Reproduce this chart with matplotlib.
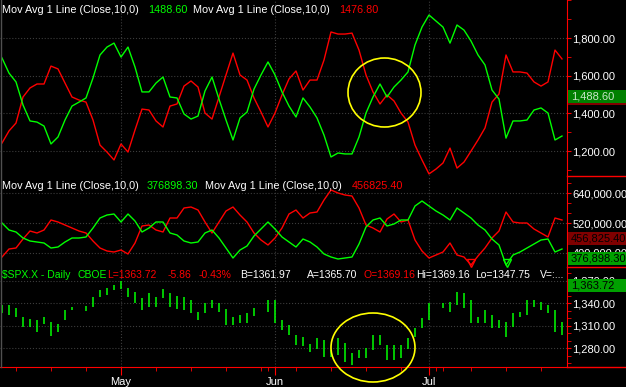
import matplotlib
matplotlib.use("Agg")
import matplotlib.pyplot as plt
from matplotlib.patches import Ellipse, Rectangle
from matplotlib.ticker import MultipleLocator, FixedLocator, FuncFormatter
import numpy as np

plt.rcParams['font.family'] = ['Liberation Sans', 'DejaVu Sans']

nan = np.nan
days = np.arange(81)  # trading days, 0 = first bar on the left

ma1_green = [1694, 1614, 1567, 1445, 1360, 1354, 1333, 1238, 1275, 1365,
             1439, 1460, 1482, 1588, 1710, 1752, 1773, 1699, 1752, 1646,
             1514, 1514, 1561, 1593, 1487, 1482, 1397, 1370, 1386, 1519,
             1593, 1476, 1365, 1259, 1376, 1407, 1529, 1604, 1673, 1604,
             1514, 1439, 1381, 1482, 1434, 1376, 1285, 1169, 1190, 1185,
             1185, 1275, 1402, 1487, 1556, 1487, 1540, 1577, 1620, 1763,
             1858, 1922, 1890, 1858, 1773, 1869, 1842, 1784, 1710, 1657,
             1524, 1476, 1269, 1360, 1360, 1365, 1418, 1429, 1402, 1259,
             1280]
ma1_red = [1243, 1307, 1349, 1487, 1535, 1556, 1556, 1651, 1636, 1561,
           1487, 1471, 1460, 1365, 1232, 1195, 1153, 1238, 1195, 1312,
           1423, 1418, 1360, 1328, 1439, 1450, 1545, 1572, 1540, 1402,
           1370, 1487, 1604, 1720, 1604, 1577, 1482, 1407, 1328, 1402,
           1498, 1583, 1625, 1524, 1577, 1577, 1683, 1832, 1821, 1821,
           1826, 1736, 1604, 1514, 1450, 1498, 1466, 1402, 1354, 1232,
           1153, 1079, 1105, 1137, 1216, 1110, 1142, 1200, 1259, 1323,
           1460, 1503, 1710, 1620, 1620, 1614, 1567, 1545, 1567, 1736,
           1689]

# second panel, in thousands
ma2_green = [520, 492, 484, 460, 448, 444, 440, 420, 424, 444,
             460, 460, 464, 500, 540, 552, 556, 524, 556, 528,
             484, 500, 524, 524, 480, 472, 448, 440, 444, 480,
             492, 460, 420, 380, 412, 428, 468, 496, 524, 496,
             464, 444, 424, 456, 444, 424, 396, 384, 376, 380,
             384, 436, 504, 532, 540, 508, 516, 532, 532, 588,
             608, 588, 568, 552, 532, 580, 560, 540, 512, 492,
             456, 432, 352, 392, 404, 420, 436, 452, 456, 404,
             416]
ma2_red = [384, 416, 420, 456, 488, 480, 492, 532, 524, 512,
           500, 488, 480, 448, 420, 408, 404, 412, 396, 440,
           508, 512, 492, 484, 540, 540, 580, 584, 572, 524,
           480, 524, 568, 584, 552, 524, 480, 452, 432, 460,
           500, 556, 572, 540, 560, 564, 612, 652, 640, 632,
           628, 580, 512, 500, 484, 536, 556, 524, 532, 452,
           408, 380, 392, 404, 440, 392, 384, 352, 388, 420,
           460, 488, 564, 524, 520, 520, 496, 480, 464, 540,
           532]

spx_high = [1338, 1338, 1334, 1322, 1319, 1318, 1322, 1315, 1312, 1331,
            1335, nan, 1336, 1348, 1358, 1360, 1364, 1370, 1360, 1355,
            1347, 1354, 1348, 1359, 1354, 1350, 1348, 1344, 1328, 1340,
            1344, 1340, 1332, 1322, 1324, 1327, 1334, nan, 1344, 1344,
            1318, 1311, 1298, 1295, 1286, 1294, 1291, 1278, 1294, 1287,
            1274, 1278, 1280, 1298, 1298, 1284, 1284, 1284, 1294, 1307,
            1320, 1340, nan, 1340, 1342, 1355, 1354, 1344, 1322, 1331,
            1324, 1318, 1315, 1327, 1328, 1344, 1344, 1342, 1338, 1331,
            1315]
spx_low = [1327, 1324, 1322, 1308, 1308, 1302, 1312, 1296, 1302, 1318,
           1331, nan, 1330, 1335, 1348, 1351, 1358, 1359, 1348, 1340,
           1331, 1335, 1335, 1347, 1335, 1332, 1331, 1327, 1318, 1327,
           1334, 1328, 1311, 1311, 1314, 1314, 1323, nan, 1328, 1314,
           1304, 1298, 1284, 1283, 1275, 1279, 1268, 1268, 1271, 1262,
           1258, 1267, 1267, 1278, 1284, 1264, 1264, 1267, 1279, 1295,
           1307, 1318, nan, 1334, 1328, 1338, 1334, 1314, 1314, 1314,
           1307, 1307, 1295, 1308, 1322, 1324, 1335, 1331, 1327, 1302,
           1298]

week_ticks = [2, 7, 12, 22, 27, 32, 37, 38, 42, 47, 52, 57, 62, 63, 67, 72, 77]
month_ticks = [17, 39, 61]
month_labels = ['May', 'Jun', 'Jul']

GREEN = '#00ff00'
RED = '#ff0000'
W, H = 626, 387

fig = plt.figure(figsize=(W / 100, H / 100), dpi=100, facecolor='black')


def panel(top, bottom):
    ax = fig.add_axes([0, 1 - bottom / H, 567 / W, (bottom - top) / H])
    ax.set_facecolor('black')
    for s in ['top', 'left', 'bottom']:
        ax.spines[s].set_visible(False)
    ax.spines['right'].set_color(RED)
    ax.yaxis.tick_right()
    ax.tick_params(axis='y', which='both', colors=RED, labelcolor='white',
                   labelsize=8, length=3, pad=1)
    ax.set_xlim(-2 / 7, 565 / 7)
    ax.xaxis.set_major_locator(FixedLocator(month_ticks))
    ax.tick_params(axis='x', which='both', bottom=False, labelbottom=False)
    ax.grid(True, which='major', color='#3c3c3c', linestyle=':', linewidth=0.8)
    ax.set_axisbelow(True)
    return ax


ax1 = panel(0, 176)
ax1.plot(days, ma1_red, color=RED, lw=1)
ax1.plot(days, ma1_green, color=GREEN, lw=1)
ax1.set_ylim(1068, 2001.6)
ax1.yaxis.set_major_locator(FixedLocator([1200, 1400, 1600, 1800]))
ax1.yaxis.set_minor_locator(MultipleLocator(100))
ax1.yaxis.set_major_formatter(FuncFormatter(lambda v, p: f'{v:,.2f}'))

ax2 = panel(176, 267)
ax2.plot(days, np.array(ma2_red) * 1000, color=RED, lw=1)
ax2.plot(days, np.array(ma2_green) * 1000, color=GREEN, lw=1)
ax2.set_ylim(344000, 708000)
ax2.yaxis.set_major_locator(FixedLocator([400000, 520000, 640000]))
ax2.yaxis.set_minor_locator(MultipleLocator(40000))
ax2.yaxis.set_major_formatter(FuncFormatter(lambda v, p: f'{v:,.2f}'))

ax3 = panel(267, 367)
ax3.vlines(days, spx_low, spx_high, color=GREEN, lw=1.1)
ax3.set_ylim(1255.1, 1388.4)
ax3.yaxis.set_major_locator(FixedLocator([1280, 1310, 1340, 1370]))
ax3.yaxis.set_minor_locator(MultipleLocator(10))
ax3.yaxis.set_major_formatter(FuncFormatter(lambda v, p: f'{v:,.2f}'))
ax3.spines['bottom'].set_visible(True)
ax3.spines['bottom'].set_color(RED)
ax3.xaxis.set_minor_locator(FixedLocator(week_ticks))
ax3.set_xticklabels(month_labels)
ax3.tick_params(axis='x', which='major', bottom=True, labelbottom=True,
                colors=RED, labelcolor='white', length=6, labelsize=8, pad=1.5)
ax3.tick_params(axis='x', which='minor', bottom=True, colors=RED, length=3)

# overlay in pixel coordinates for headers, value boxes and markups
ov = fig.add_axes([0, 0, 1, 1])
ov.set_xlim(0, W)
ov.set_ylim(H, 0)
ov.axis('off')
ov.patch.set_alpha(0)
ov.set_zorder(10)

ov.plot([567, W], [367, 367], color=RED, lw=1)
ov.plot([567, W], [176, 176], color=RED, lw=1)
ov.plot([567, W], [267, 267], color=RED, lw=1)
ov.plot([0.5, 0.5], [0, 367], color='#505050', lw=1)

headers = [
    (2, 10, 'Mov Avg 1 Line (Close,10,0)', 'white', 7.8),
    (148, 10, '1488.60', GREEN, 7.8),
    (193, 10, 'Mov Avg 1 Line (Close,10,0)', 'white', 7.8),
    (339, 10, '1476.80', RED, 7.8),
    (2, 186, 'Mov Avg 1 Line (Close,10,0)', 'white', 7.8),
    (147, 186, '376898.30', GREEN, 7.8),
    (205, 186, 'Mov Avg 1 Line (Close,10,0)', 'white', 7.8),
    (352, 186, '456825.40', RED, 7.8),
    (2, 275, '$SPX.X - Daily', GREEN, 7.5),
    (77, 275, 'CBOE', GREEN, 7.5),
    (107, 275, 'L=1363.72', RED, 7.5),
    (168, 275, '-5.86', RED, 7.5),
    (199, 275, '-0.43%', RED, 7.5),
    (240, 275, 'B=1361.97', 'white', 7.5),
    (307, 275, 'A=1365.70', 'white', 7.5),
    (363, 275, 'O=1369.16', RED, 7.5),
    (416, 275, 'Hi=1369.16', 'white', 7.5),
    (475, 275, 'Lo=1347.75', 'white', 7.5),
    (540, 275, 'V=:...', 'white', 7.5),
]
for x, y, s, c, fs in headers:
    ov.text(x, y, s, color=c, fontsize=fs, ha='left', va='center')

# value boxes on the right scale
boxes = [
    (98.9, '', '#800000', 'black'),
    (96.7, '1,488.60', '#008000', '#c8e6c8'),
    (238.8, '456,825.40', '#800000', 'black'),
    (258.8, '376,898.30', '#00a000', 'black'),
    (285.5, '1,363.72', '#00a000', 'black'),
]
for yc, s, bg, fg in boxes:
    ov.add_patch(Rectangle((567.5, yc - 6.5), W - 567, 13, facecolor=bg,
                           edgecolor='none'))
    ov.text(571, yc, s, color=fg, fontsize=8, ha='left', va='center')

ov.plot([470.5], [262.5], marker='v', ms=6, mfc='none', mec=RED, mew=1)
ov.plot([506.5], [262.5], marker='v', ms=6, mfc='none', mec=GREEN, mew=1)

ov.add_patch(Ellipse((384.5, 92.5), 73, 69, fill=False, edgecolor='yellow', lw=1.2))
ov.add_patch(Ellipse((373, 347.5), 84, 69, fill=False, edgecolor='yellow', lw=1.2))

fig.savefig('out.png', dpi=100, facecolor='black')
